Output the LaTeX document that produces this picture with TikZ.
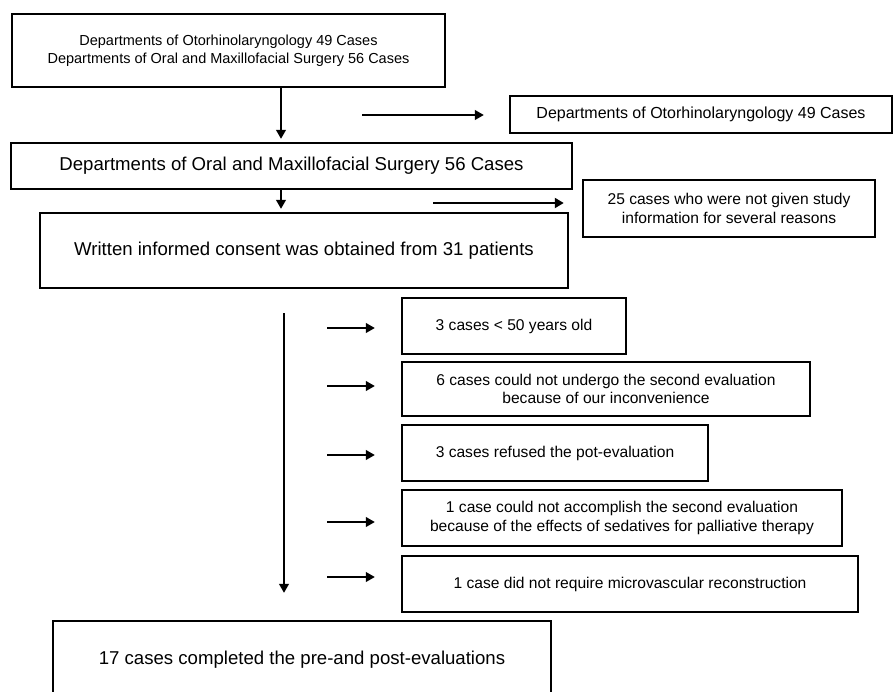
\documentclass[tikz,border=0pt]{standalone}
\usepackage{fontspec}
\setmainfont{Liberation Sans}
\usetikzlibrary{arrows.meta}

\begin{document}
\begin{tikzpicture}[
  x=1pt, y=-1pt,
  flowbox/.style={draw, line width=2.5pt, align=center, inner sep=0pt,
                  font=\fontsize{18.6}{22}\selectfont},
  exclbox/.style={flowbox, font=\fontsize{15.6}{18.5}\selectfont},
  arrow/.style={-{Triangle[length=9pt,width=10pt]}, line width=1.2pt},
]
\useasboundingbox (0,0) rectangle (893,691);
\clip (0,0) rectangle (893,691);

% main column
\node[flowbox, font=\fontsize{14.5}{18}\selectfont, minimum width=433pt, minimum height=73pt] (depts) at (228.5,50.5) {Departments of Otorhinolaryngology 49 Cases\\Departments of Oral and Maxillofacial Surgery 56 Cases};
\node[flowbox, minimum width=561pt, minimum height=46pt] (oral) at (291.5,166) {Departments of Oral and Maxillofacial Surgery 56 Cases};
\node[flowbox, minimum width=528pt, minimum height=75pt] (consent) at (304,250.5) {Written informed consent was obtained from 31 patients};
\node[flowbox, minimum width=498pt, minimum height=78pt] (final) at (302,660) {17 cases completed the pre-and post-evaluations};

% side boxes
\node[exclbox, font=\fontsize{16}{19}\selectfont, minimum width=382pt, minimum height=37pt] (oto) at (701,114.5) {Departments of Otorhinolaryngology 49 Cases};
\node[exclbox, minimum width=292pt, minimum height=57pt] (notgiven) at (729,208.5) {25 cases who were not given study\\information for several reasons};

% exclusions
\node[exclbox, minimum width=224pt, minimum height=56pt] (ex1) at (514,326) {3 cases < 50 years old};
\node[exclbox, minimum width=408pt, minimum height=54pt] (ex2) at (606,389) {6 cases could not undergo the second evaluation\\because of our inconvenience};
\node[exclbox, minimum width=306pt, minimum height=56pt] (ex3) at (555,453) {3 cases refused the pot-evaluation};
\node[exclbox, minimum width=440pt, minimum height=56pt] (ex4) at (622,518) {1 case could not accomplish the second evaluation\\because of the effects of sedatives for palliative therapy};
\node[exclbox, minimum width=456pt, minimum height=56pt] (ex5) at (630,584) {1 case did not require microvascular reconstruction};

% arrows
\coordinate (spine) at (281,0);
\coordinate (trunk) at (284,0);
\draw[arrow, shorten >=3pt] (depts.south -| spine) -- (oral.north -| spine);
\draw[arrow, shorten >=3pt] (oral.south -| spine) -- (consent.north -| spine);
\draw[arrow, shorten <=24pt, shorten >=27pt] (consent.south -| trunk) -- (final.north -| trunk);

\coordinate (toto) at (362,115);
\draw[arrow, shorten >=25pt] (toto) -- (toto -| oto.west);
\coordinate (tnot) at (433,203);
\draw[arrow, line width=2pt, shorten >=18pt] (tnot) -- (tnot -| notgiven.west);

\foreach \i/\y in {1/328, 2/386, 3/455, 4/522, 5/577} {
  \coordinate (t\i) at (327,\y);
  \draw[arrow, shorten >=26pt] (t\i) -- (t\i -| ex\i.west);
}
\end{tikzpicture}
\end{document}
